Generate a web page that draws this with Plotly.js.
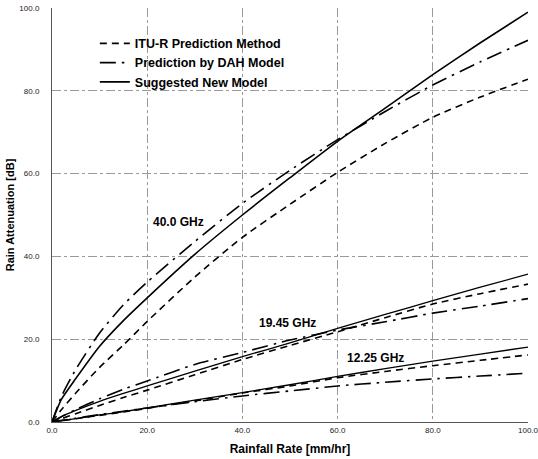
<!DOCTYPE html>
<html>
<head>
<meta charset="utf-8">
<script src="https://cdn.plot.ly/plotly-3.0.1.min.js"></script>
<style>html,body{margin:0;padding:0;background:#fff;}#chart{width:538px;height:459px;}</style>
</head>
<body>
<div id="chart"></div>
<script>
// Rainfall rate samples [mm/hr]
var rainRate = [0, 2, 5, 10, 15, 20, 30, 40, 50, 60, 70, 80, 90, 100];

// 40.0 GHz
var itu40 = [0, 3.0, 7.0, 13.2, 18.6, 24.3, 35.0, 44.6, 52.6, 60.3, 67.3, 73.6, 78.5, 82.8];
var dah40 = [0, 6.2, 12.7, 21.5, 28.3, 33.8, 43.6, 52.8, 60.8, 68.2, 75.0, 81.4, 87.0, 92.2];
var new40 = [0, 5.5, 10.5, 18.3, 24.5, 30.0, 40.5, 50.0, 59.0, 67.8, 75.8, 83.9, 91.6, 99.0];

// 19.45 GHz
var itu19 = [0, 0.8, 2.0, 4.0, 5.9, 7.7, 11.4, 15.1, 18.5, 21.8, 25.2, 28.5, 31.0, 33.3];
var dah19 = [0, 1.3, 3.0, 5.6, 7.9, 9.9, 13.9, 16.8, 19.8, 22.2, 24.2, 26.3, 28.0, 29.8];
var new19 = [0, 1.3, 2.8, 5.0, 6.9, 8.7, 12.3, 15.8, 19.1, 22.6, 26.0, 29.3, 32.6, 35.7];

// 12.25 GHz
var itu12 = [0, 0.3, 0.8, 1.6, 2.4, 3.3, 5.1, 7.0, 8.7, 10.7, 12.2, 13.6, 14.9, 16.2];
var dah12 = [0, 0.4, 0.9, 1.8, 2.6, 3.4, 4.9, 6.3, 7.5, 8.7, 9.6, 10.4, 11.1, 11.8];
var new12 = [0, 0.3, 0.8, 1.7, 2.5, 3.4, 5.3, 7.1, 9.0, 11.0, 12.9, 14.7, 16.4, 18.1];

var seriesNames = ["ITU-R Prediction Method", "Prediction by DAH Model", "Suggested New Model"];
var tickVals = [0, 20, 40, 60, 80, 100];
var tickLabels = ["0.0", "20.0", "40.0", "60.0", "80.0", "100.0"];
var freqLabels = ["40.0 GHz", "19.45 GHz", "12.25 GHz"];

var styles = [
  {dash: "7px,5px", width: 1.6},
  {dash: "16px,6px,2.5px,6px", width: 1.6},
  {dash: "solid", width: 1.3}
];

var groups = [
  [itu40, dah40, new40],
  [itu19, dah19, new19],
  [itu12, dah12, new12]
];

var traces = [];
groups.forEach(function (g, gi) {
  g.forEach(function (vals, si) {
    traces.push({
      x: rainRate,
      y: vals,
      type: "scatter",
      mode: "lines",
      name: seriesNames[si],
      legendgroup: "s" + si,
      showlegend: gi === 0,
      line: {color: "#000", dash: styles[si].dash, width: (gi === 0 && si === 2) ? 1.6 : styles[si].width, shape: "spline", smoothing: 0.6},
      hoverinfo: "skip"
    });
  });
});
// legend order: ITU, DAH, New
traces.sort(function (a, b) { return (a.showlegend === b.showlegend) ? 0 : (a.showlegend ? -1 : 1); });

var font = "Liberation Sans, Arial, sans-serif";

var layout = {
  width: 538,
  height: 459,
  margin: {l: 52, r: 10, t: 8, b: 37},
  paper_bgcolor: "#fff",
  plot_bgcolor: "#fff",
  showlegend: true,
  legend: {
    x: 0.09, y: 0.95, xanchor: "left", yanchor: "top",
    bgcolor: "rgba(255,255,255,0)",
    font: {family: font, size: 12.5, color: "#000", weight: "bold"},
    tracegroupgap: 0,
    itemwidth: 30
  },
  xaxis: {
    range: [0, 100],
    tickvals: tickVals,
    ticktext: tickLabels,
    ticks: "",
    ticklabeloverflow: "allow",
    tickfont: {family: font, size: 8, color: "#222"},
    showgrid: true,
    gridcolor: "#9a9a9a",
    griddash: "dashdot",
    gridwidth: 1,
    showline: true,
    linecolor: "#555",
    linewidth: 1,
    zeroline: false,
    automargin: false,
    title: {text: "Rainfall Rate [mm/hr]", font: {family: font, size: 12, color: "#000", weight: "bold"}, standoff: 11}
  },
  yaxis: {
    range: [0, 100],
    tickvals: tickVals,
    ticktext: tickLabels,
    ticks: "",
    ticklabelstandoff: 10,
    tickfont: {family: font, size: 8, color: "#222"},
    showgrid: true,
    gridcolor: "#9a9a9a",
    griddash: "dashdot",
    gridwidth: 1,
    showline: true,
    linecolor: "#555",
    linewidth: 1,
    zeroline: false,
    automargin: false,
    title: {text: "Rain Attenuation [dB]", font: {family: font, size: 11, color: "#000", weight: "bold"}, standoff: 2}
  },
  annotations: [
    {x: 26.5, y: 48.4, xref: "x", yref: "y", text: freqLabels[0], showarrow: false, font: {family: font, size: 12, color: "#000", weight: "bold"}},
    {x: 49.4, y: 23.9, xref: "x", yref: "y", text: freqLabels[1], showarrow: false, font: {family: font, size: 12, color: "#000", weight: "bold"}},
    {x: 67.9, y: 15.5, xref: "x", yref: "y", text: freqLabels[2], showarrow: false, font: {family: font, size: 12, color: "#000", weight: "bold"}}
  ]
};

Plotly.newPlot("chart", traces, layout, {displayModeBar: false, staticPlot: true});
</script>
</body>
</html>
